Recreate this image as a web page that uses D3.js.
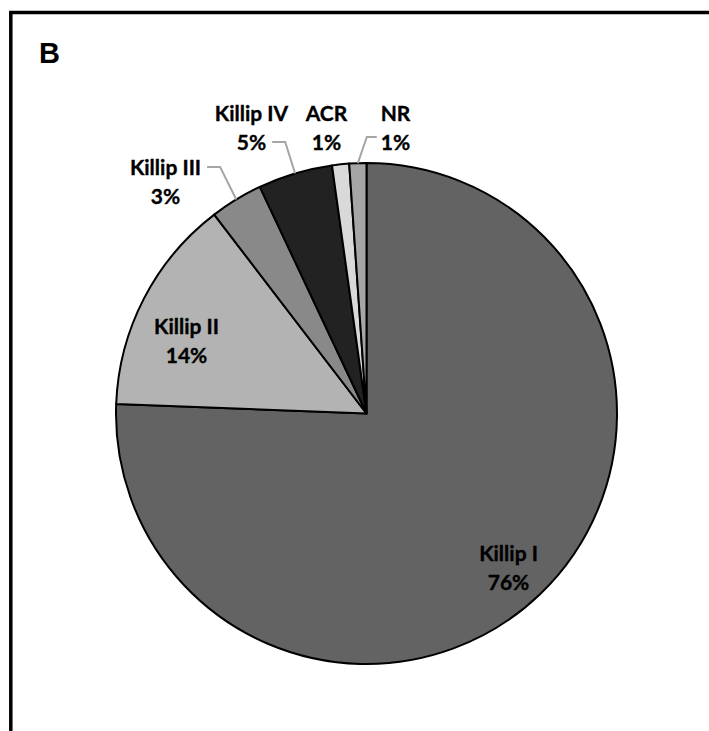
<!DOCTYPE html>
<html>
<head>
<meta charset="utf-8">
<script src="https://cdn.jsdelivr.net/npm/d3@7"></script>
<style>
  body { margin: 0; background: #fff; }
  svg { display: block; }
  .lbl { font-family: Lato, "Open Sans", sans-serif; font-weight: 700; font-size: 21px; fill: #000; stroke: #000; stroke-width: 0.35px; }
</style>
</head>
<body>
<div id="chart"></div>
<script>
// data
const categories = ["Killip I", "Killip II", "Killip III", "Killip IV", "ACR", "NR"];
const values = [75.6, 14.0, 3.4, 4.8, 1.1, 1.1];
const colors = ["#636363", "#b3b3b3", "#898989", "#222222", "#d9d9d9", "#a6a6a6"];

// label layout (offset of label block centre from pie centre) and whether a leader line is drawn
const labelLayout = {
  "Killip I":   { dx: 142,  dy: 155,  leader: false },
  "Killip II":  { dx: -180, dy: -72,  leader: false },
  "Killip III": { dx: -201, dy: -231, leader: true, side: "right" },
  "Killip IV":  { dx: -115, dy: -285, leader: true, side: "right" },
  "ACR":        { dx: -40,  dy: -285, leader: false },
  "NR":         { dx: 29,   dy: -285, leader: true, side: "left" }
};

const width = 709, height = 731;
const cx = 366.5, cy = 413.5, radius = 250.5;
const lineGap = 29;

const svg = d3.select("#chart").append("svg")
  .attr("width", width)
  .attr("height", height);

// frame (left + top only, like the cropped figure)
svg.append("path")
  .attr("d", `M10.8,${height} L10.8,12.5 L${width},12.5`)
  .attr("fill", "none")
  .attr("stroke", "#000")
  .attr("stroke-width", 3.5);

svg.append("text")
  .attr("x", 39)
  .attr("y", 63)
  .attr("font-family", "Liberation Sans, Arial, sans-serif")
  .attr("font-weight", 700)
  .attr("font-size", 29)
  .text("B");

const table = categories.map((c, i) => ({ cat: c, value: values[i], color: colors[i] }));
const total = d3.sum(values);

const pie = d3.pie().sort(null).value(d => d.value);
const arcs = pie(table);
const arc = d3.arc().innerRadius(0).outerRadius(radius);

const g = svg.append("g").attr("transform", `translate(${cx},${cy})`);

g.selectAll("path.slice")
  .data(arcs)
  .enter()
  .append("path")
  .attr("class", "slice")
  .attr("d", arc)
  .attr("fill", d => d.data.color)
  .attr("stroke", "#000")
  .attr("stroke-width", 2)
  .attr("stroke-linejoin", "round");

// labels
const labels = g.selectAll("g.label")
  .data(arcs)
  .enter()
  .append("g")
  .attr("class", "label")
  .attr("transform", d => {
    const l = labelLayout[d.data.cat];
    return `translate(${l.dx},${l.dy})`;
  });

labels.append("text")
  .attr("class", "lbl")
  .attr("text-anchor", "middle")
  .attr("y", -lineGap / 2 + 7)
  .text(d => d.data.cat);

labels.append("text")
  .attr("class", "lbl")
  .attr("text-anchor", "middle")
  .attr("y", lineGap / 2 + 7)
  .text(d => Math.round(d.value / total * 100) + "%");

// leader lines: from the label edge, short horizontal run, then to the arc at mid-angle
labels.each(function(d) {
  const l = labelLayout[d.data.cat];
  if (!l.leader) return;
  const texts = d3.select(this).selectAll("text").nodes();
  const mid = (d.startAngle + d.endAngle) / 2;
  const ex = Math.sin(mid) * radius, ey = -Math.cos(mid) * radius;
  let sx, sy, hx;
  if (l.side === "right") {
    // attach beside the line that sits closer to the slice
    const useFirst = d.data.cat === "Killip III";
    const b = (useFirst ? texts[0] : texts[1]).getBBox();
    sx = l.dx + b.x + b.width + 6;
    sy = l.dy + (useFirst ? -lineGap / 2 : lineGap / 2) - 1;
    hx = sx + 13;
  } else {
    const b = texts[1].getBBox();
    sx = l.dx + b.x - 4;
    sy = l.dy + lineGap / 2 - 6;
    hx = sx - 10;
  }
  g.append("polyline")
    .attr("points", [[sx, sy], [hx, sy], [ex, ey]].map(p => p.join(",")).join(" "))
    .attr("fill", "none")
    .attr("stroke", "#a6a6a6")
    .attr("stroke-width", 2);
});
</script>
</body>
</html>
